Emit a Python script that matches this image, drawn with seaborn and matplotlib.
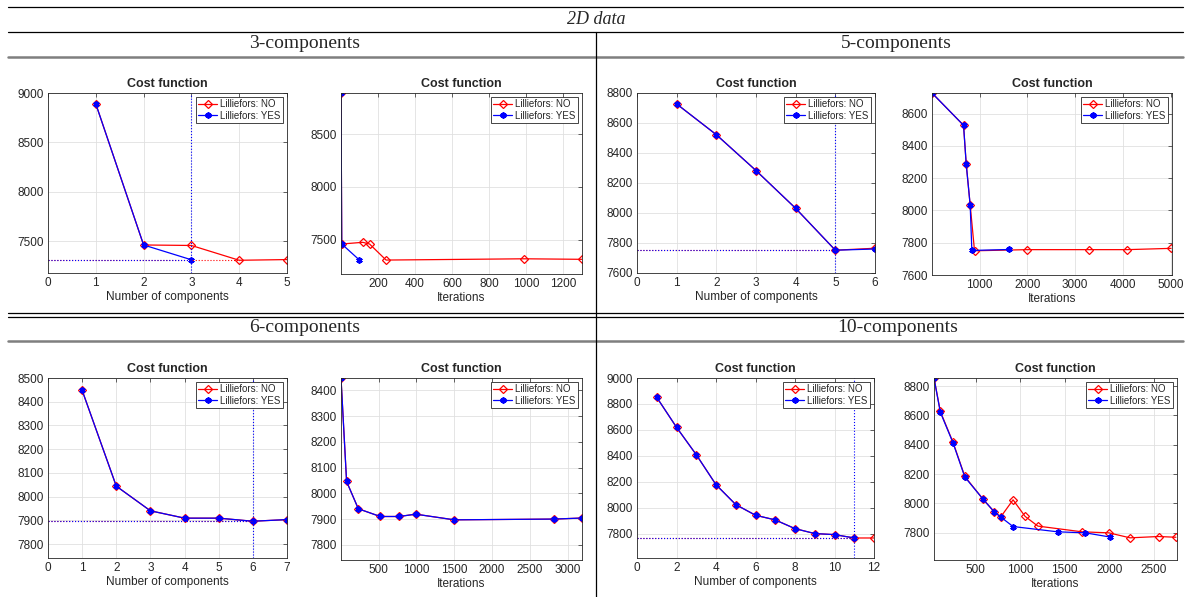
import numpy as np
import matplotlib
matplotlib.use("Agg")
import matplotlib.pyplot as plt
import seaborn as sns
from matplotlib.lines import Line2D

# ---- data ----
# 3-components
c3_ncomp_no_x = [1, 2, 3, 4, 5]
c3_ncomp_no = [8890, 7460, 7455, 7305, 7312]
c3_ncomp_yes_x = [1, 2, 3]
c3_ncomp_yes = [8890, 7460, 7310]
c3_iter_no_x = [1, 5, 118, 155, 244, 989, 1300]
c3_iter_no = [8890, 7460, 7476, 7460, 7308, 7320, 7315]
c3_iter_yes_x = [1, 5, 98]
c3_iter_yes = [8890, 7460, 7312]

# 5-components
c5_ncomp_no_x = [1, 2, 3, 4, 5, 6]
c5_ncomp_no = [8727, 8522, 8283, 8031, 7752, 7765]
c5_ncomp_yes_x = [1, 2, 3, 4, 5, 6]
c5_ncomp_yes = [8727, 8522, 8283, 8031, 7752, 7760]
c5_iter_no_x = [1, 662, 718, 801, 892, 2000, 3290, 4090, 5010]
c5_iter_no = [8727, 8527, 8287, 8033, 7750, 7757, 7757, 7757, 7765]
c5_iter_yes_x = [1, 662, 718, 801, 836, 1624]
c5_iter_yes = [8727, 8527, 8287, 8033, 7752, 7758]

# 6-components
c6_ncomp_no_x = [1, 2, 3, 4, 5, 6, 7]
c6_ncomp_no = [8448, 8044, 7940, 7909, 7909, 7896, 7903]
c6_ncomp_yes_x = [1, 2, 3, 4, 5, 6, 7]
c6_ncomp_yes = [8448, 8044, 7940, 7909, 7909, 7896, 7903]
c6_iter_no_x = [1, 75, 230, 520, 770, 990, 1500, 2820, 3190]
c6_iter_no = [8448, 8046, 7940, 7910, 7910, 7919, 7897, 7900, 7904]
c6_iter_yes_x = [1, 75, 230, 520, 770, 990, 1500, 2820, 3190]
c6_iter_yes = [8448, 8046, 7940, 7910, 7910, 7919, 7897, 7900, 7904]

# 10-components
c10_ncomp_no_x = [1, 2, 3, 4, 5, 6, 7, 8, 9, 10, 11, 12]
c10_ncomp_no = [8851, 8621, 8410, 8179, 8026, 7944, 7908, 7841, 7803, 7795, 7769, 7769]
c10_ncomp_yes_x = [1, 2, 3, 4, 5, 6, 7, 8, 9, 10, 11]
c10_ncomp_yes = [8851, 8621, 8410, 8179, 8026, 7944, 7908, 7841, 7803, 7795, 7769]
c10_iter_no_x = [34, 105, 248, 380, 586, 707, 782, 921, 1056, 1199, 1695, 1996, 2233, 2553, 2748]
c10_iter_no = [8855, 8627, 8416, 8184, 8028, 7945, 7908, 8025, 7912, 7846, 7807, 7800, 7766, 7775, 7770]
c10_iter_yes_x = [34, 105, 248, 380, 586, 707, 782, 921, 1421, 1733, 2004]
c10_iter_yes = [8855, 8622, 8412, 8180, 8028, 7945, 7908, 7843, 7807, 7800, 7772]

headers = ["3-components", "5-components", "6-components", "10-components"]

sns.set_style("white")
plt.rcParams['font.family'] = ['Liberation Sans', 'DejaVu Sans']

W, H = 1189, 597
fig = plt.figure(figsize=(W / 100, H / 100), dpi=100)

def px_axes(x0, y0, x1, y1):
    return fig.add_axes([x0 / W, 1 - y1 / H, (x1 - x0) / W, (y1 - y0) / H])

def hline(y, x0=8, x1=1183, color='black', lw=0.9):
    fig.add_artist(Line2D([x0 / W, x1 / W], [1 - y / H, 1 - y / H], color=color, lw=lw))

def series(ax, xn, yn, xy, yy):
    sns.lineplot(x=xn, y=yn, ax=ax, color='red', lw=0.9, marker='D', markersize=4,
                 markerfacecolor='none', markeredgecolor='red', markeredgewidth=0.9,
                 label='Lilliefors: NO', sort=False, errorbar=None)
    sns.lineplot(x=xy, y=yy, ax=ax, color='blue', lw=0.9, marker=(6, 2, 0), markersize=4.5,
                 markeredgecolor='blue', markeredgewidth=1.3,
                 label='Lilliefors: YES', sort=False, errorbar=None)

def style(ax, xlabel):
    ax.set_title('Cost function', fontsize=9, fontweight='bold', pad=4)
    ax.set_xlabel(xlabel, fontsize=8.5, color='#262626', labelpad=1)
    ax.set_ylabel('')
    ax.grid(True, color='#e0e0e0', lw=0.6)
    ax.set_axisbelow(True)
    ax.tick_params(direction='in', top=True, right=True, length=3, width=0.5,
                   colors='#262626', labelsize=8.5, pad=3)
    for s in ax.spines.values():
        s.set_color('#262626')
        s.set_linewidth(0.6)
    leg = ax.legend(loc='upper right', fontsize=7, frameon=True, fancybox=False,
                    edgecolor='#262626', framealpha=1, handlelength=2.0,
                    borderpad=0.25, labelspacing=0.15, handletextpad=0.3,
                    borderaxespad=0.4)
    leg.get_frame().set_linewidth(0.6)

def ncomp_panel(ax, xn, yn, xy, yy, xmax, ylim, yticks):
    series(ax, xn, yn, xy, yy)
    bn = int(np.argmin(yn))
    by = int(np.argmin(yy))
    ax.plot([0, xn[bn]], [yn[bn], yn[bn]], ls=':', color='red', lw=0.8)
    ax.plot([0, xy[by]], [yy[by], yy[by]], ls=':', color='blue', lw=0.8)
    ax.axvline(xy[by], ls=':', color='blue', lw=0.8)
    ax.set_xlim(0, xmax)
    ax.set_ylim(*ylim)
    ax.set_yticks(yticks)
    style(ax, 'Number of components')

def iter_panel(ax, xn, yn, xy, yy, xlim, ylim, xticks, yticks):
    series(ax, xn, yn, xy, yy)
    ax.set_xlim(*xlim)
    ax.set_ylim(*ylim)
    ax.set_xticks(xticks)
    ax.set_yticks(yticks)
    style(ax, 'Iterations')

# top-left: 3 components
ax = px_axes(48, 93, 287, 273)
ncomp_panel(ax, c3_ncomp_no_x, c3_ncomp_no, c3_ncomp_yes_x, c3_ncomp_yes,
            5, (7176, 9000), [7500, 8000, 8500, 9000])
ax.set_xticks(range(0, 6))
ax = px_axes(341, 93, 582, 274)
iter_panel(ax, c3_iter_no_x, c3_iter_no, c3_iter_yes_x, c3_iter_yes,
           (1, 1300), (7176, max(c3_iter_no)), range(200, 1300, 200), [7500, 8000, 8500])

# top-right: 5 components
ax = px_axes(637, 93, 875, 273)
ncomp_panel(ax, c5_ncomp_no_x, c5_ncomp_no, c5_ncomp_yes_x, c5_ncomp_yes,
            6, (7600, 8800), range(7600, 8801, 200))
ax.set_xticks(range(0, 7))
ax = px_axes(932, 93, 1172, 275)
iter_panel(ax, c5_iter_no_x, c5_iter_no, c5_iter_yes_x, c5_iter_yes,
           (1, 5030), (7600, max(c5_iter_no)), range(1000, 5001, 1000), range(7600, 8601, 200))

# bottom-left: 6 components
ax = px_axes(48, 378, 287, 558)
ncomp_panel(ax, c6_ncomp_no_x, c6_ncomp_no, c6_ncomp_yes_x, c6_ncomp_yes,
            7, (7741, 8500), range(7800, 8501, 100))
ax.set_xticks(range(0, 8))
ax = px_axes(341, 378, 582, 560)
iter_panel(ax, c6_iter_no_x, c6_iter_no, c6_iter_yes_x, c6_iter_yes,
           (1, 3190), (7741, max(c6_iter_no)), range(500, 3001, 500), range(7800, 8401, 100))

# bottom-right: 10 components
ax = px_axes(637, 378, 874, 558)
ncomp_panel(ax, c10_ncomp_no_x, c10_ncomp_no, c10_ncomp_yes_x, c10_ncomp_yes,
            12, (7615, 9000), range(7800, 9001, 200))
ax.set_xticks(range(0, 13, 2))
ax = px_axes(934, 378, 1177, 560)
iter_panel(ax, c10_iter_no_x, c10_iter_no, c10_iter_yes_x, c10_iter_yes,
           (34, 2760), (7615, max(c10_iter_no)), range(500, 2501, 500), range(7800, 8801, 200))

# table frame
hline(7)
hline(32)
hline(57, color='#7f7f7f', lw=1.8)
hline(313)
hline(317)
hline(341, color='#7f7f7f', lw=1.8)
fig.add_artist(Line2D([596 / W, 596 / W], [1 - 32 / H, 0], color='black', lw=0.9))

serif = ['Liberation Serif', 'DejaVu Serif']
fig.text(596 / W, 1 - 20 / H, '2D data', ha='center', va='center', fontsize=13,
         style='italic', family=serif)
for (cx, cy), label in zip([(305, 44), (896, 44), (305, 328), (898, 328)], headers):
    fig.text(cx / W, 1 - cy / H, label, ha='center', va='center', fontsize=14, family=serif)

fig.savefig('out.png', dpi=100)
